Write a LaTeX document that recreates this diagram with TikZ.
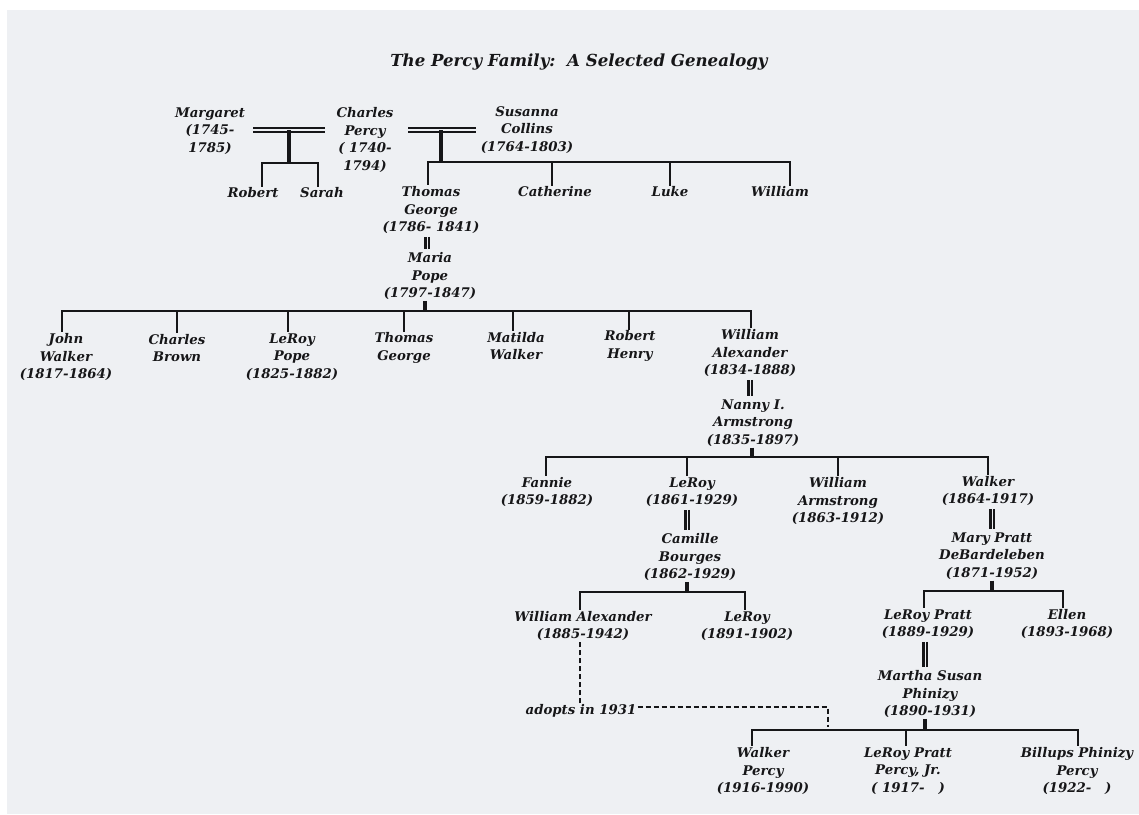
\documentclass[tikz,border=0pt]{standalone}
\usepackage{fontspec}
\setmainfont{DejaVu Serif}
\definecolor{bg}{RGB}{238,240,243}
\definecolor{ink}{RGB}{22,22,24}
\tikzset{
  person/.style={align=center, text=ink, font=\fontsize{13.3}{17.5}\selectfont\bfseries\itshape, inner sep=1pt},
  titletext/.style={text=ink, font=\fontsize{16.6}{20}\selectfont\bfseries\itshape, inner sep=1pt},
  sib/.style={draw=ink, line width=2pt},
  stub/.style={draw=ink, line width=4.5pt},
  marh/.style={draw=ink, double=bg, double distance=2pt, line width=1.9pt},
  marv/.style={draw=ink, double=bg, double distance=1pt, line width=2.1pt, shorten <=2pt, shorten >=2pt},
  adoptline/.style={draw=ink, line width=2.5pt, dash pattern=on 5pt off 3pt},
}
\begin{document}
\begin{tikzpicture}[x=1pt,y=-1pt]
\fill[white] (0,0) rectangle (1139,814);
\fill[bg] (7,10) rectangle (1139,814);
\useasboundingbox (0,0) rectangle (1139,814);

% title
\node[titletext] (title) at (579,62) {The Percy Family:\ \ A Selected Genealogy};

% generation 1
\node[person] (margaret) at (210,131) {Margaret\\(1745-\\1785)};
\node[person] (charles) at (365,140) {Charles\\Percy\\( 1740-\\1794)};
\node[person] (susanna) at (527,130) {Susanna\\Collins\\(1764-1803)};

% generation 2
\node[person] (robert) at (253,193) {Robert};
\node[person] (sarah) at (322,193) {Sarah};
\node[person] (thomas) at (431,210) {Thomas\\George\\(1786- 1841)};
\node[person] (catherine) at (555,192) {Catherine};
\node[person] (luke) at (670,192) {Luke};
\node[person] (william) at (780,192) {William};
\node[person] (maria) at (430,276) {Maria\\Pope\\(1797-1847)};

% generation 3
\node[person] (john) at (66,357) {John\\Walker\\(1817-1864)};
\node[person] (charlesb) at (177,348) {Charles\\Brown};
\node[person] (leroypope) at (292,357) {LeRoy\\Pope\\(1825-1882)};
\node[person] (thomasg) at (404,348) {Thomas\\George};
\node[person] (matilda) at (516,346) {Matilda\\Walker};
\node[person] (roberth) at (630,346) {Robert\\Henry};
\node[person] (williama) at (750,353) {William\\Alexander\\(1834-1888)};
\node[person] (nanny) at (753,423) {Nanny I.\\Armstrong\\(1835-1897)};

% generation 4
\node[person] (fannie) at (547,492) {Fannie\\(1859-1882)};
\node[person] (leroy61) at (692,492) {LeRoy\\(1861-1929)};
\node[person] (williamarm) at (838,501) {William\\Armstrong\\(1863-1912)};
\node[person] (walker64) at (988,491) {Walker\\(1864-1917)};
\node[person] (camille) at (690,557) {Camille\\Bourges\\(1862-1929)};
\node[person] (mary) at (992,556) {Mary Pratt\\DeBardeleben\\(1871-1952)};

% generation 5
\node[person] (wa85) at (583,626) {William Alexander\\(1885-1942)};
\node[person] (leroy91) at (747,626) {LeRoy\\(1891-1902)};
\node[person] (leroypratt) at (928,624) {LeRoy Pratt\\(1889-1929)};
\node[person] (ellen) at (1067,624) {Ellen\\(1893-1968)};
\node[person] (martha) at (930,694) {Martha Susan\\Phinizy\\(1890-1931)};
\node[person] (adopts) at (581,711) {adopts in 1931};

% generation 6
\node[person] (walkerpercy) at (763,771) {Walker\\Percy\\(1916-1990)};
\node[person] (leroyjr) at (908,771) {LeRoy Pratt\\Percy, Jr.\\( 1917-\ \ \ )};
\node[person] (billups) at (1077,771) {Billups Phinizy\\Percy\\(1922-\ \ \ )};

% ---- Margaret & Charles
\coordinate (mcL) at (253,130);
\coordinate (mcR) at (325,130);
\coordinate (mcJ) at (289,130);
\coordinate (mcB) at (289,163);
\draw[marh] (mcL) -- (mcR);
\draw[stub] (mcJ) -- (mcB);
\draw[sib] (mcB) -| ([xshift=9pt]robert.north);
\draw[sib] (mcB) -| ([xshift=-4pt]sarah.north);

% ---- Charles & Susanna
\coordinate (csL) at (408,130);
\coordinate (csR) at (476,130);
\coordinate (csJ) at (441,130);
\coordinate (csB) at (441,162);
\draw[marh] (csL) -- (csR);
\draw[stub] (csJ) -- (csB);
\draw[sib] (csB) -| ([xshift=-3pt]thomas.north);
\draw[sib] (csB) -| ([xshift=-3pt]catherine.north);
\draw[sib] (csB) -| (luke.north);
\draw[sib] (csB) -| ([xshift=10pt]william.north);

% ---- Thomas & Maria
\draw[marv] ([xshift=-4pt]thomas.south) -- ([xshift=-3pt]maria.north);
\coordinate (tmB) at (425,311);
\draw[stub] ([xshift=-5pt]maria.south) -- (tmB);
\draw[sib] (tmB) -| ([xshift=-4pt]john.north);
\draw[sib] (tmB) -| (charlesb.north);
\draw[sib] (tmB) -| ([xshift=-4pt]leroypope.north);
\draw[sib] (tmB) -| (thomasg.north);
\draw[sib] (tmB) -| ([xshift=-3pt]matilda.north);
\draw[sib] (tmB) -| ([xshift=-1pt]roberth.north);
\draw[sib] (tmB) -| ([xshift=1pt]williama.north);

% ---- William Alexander & Nanny
\draw[marv] (williama.south) -- (williama.south |- nanny.north);
\coordinate (wnB) at (752,457);
\draw[stub] ([xshift=-1pt]nanny.south) -- (wnB);
\draw[sib] (wnB) -| ([xshift=-1pt]fannie.north);
\draw[sib] (wnB) -| ([xshift=-5pt]leroy61.north);
\draw[sib] (wnB) -| (williamarm.north);
\draw[sib] (wnB) -| (walker64.north);

% ---- LeRoy & Camille
\draw[marv] ([xshift=-5pt]leroy61.south) -- ([xshift=-5pt]leroy61.south |- camille.north);
\coordinate (lcB) at (687,592);
\draw[stub] ([xshift=-3pt]camille.south) -- (lcB);
\draw[sib] (lcB) -| ([xshift=-3pt]wa85.north);
\draw[sib] (lcB) -| ([xshift=-2pt]leroy91.north);

% ---- Walker & Mary
\draw[marv] ([xshift=4pt]walker64.south) -- ([xshift=4pt]walker64.south |- mary.north);
\coordinate (wmB) at (992,591);
\draw[stub] (mary.south) -- (wmB);
\draw[sib] (wmB) -| ([xshift=-4pt]leroypratt.north);
\draw[sib] (wmB) -| ([xshift=-4pt]ellen.north);

% ---- LeRoy Pratt & Martha
\draw[marv] ([xshift=-3pt]leroypratt.south) -- ([xshift=-3pt]leroypratt.south |- martha.north);
\coordinate (lmB) at (925,730);
\draw[stub] ([xshift=-5pt]martha.south) -- (lmB);
\draw[sib] (lmB) -| ([xshift=-11pt]walkerpercy.north);
\draw[sib] (lmB) -| ([xshift=-2pt]leroyjr.north);
\draw[sib] (lmB) -| ([xshift=1pt]billups.north);

% ---- adoption
\draw[adoptline] ([xshift=-1pt]adopts.north) -- ([xshift=-1pt]adopts.north |- wa85.south);
\coordinate (adoptEnd) at (828,727);
\draw[adoptline] ([yshift=4pt]adopts.east) -| (adoptEnd);
\end{tikzpicture}
\end{document}
